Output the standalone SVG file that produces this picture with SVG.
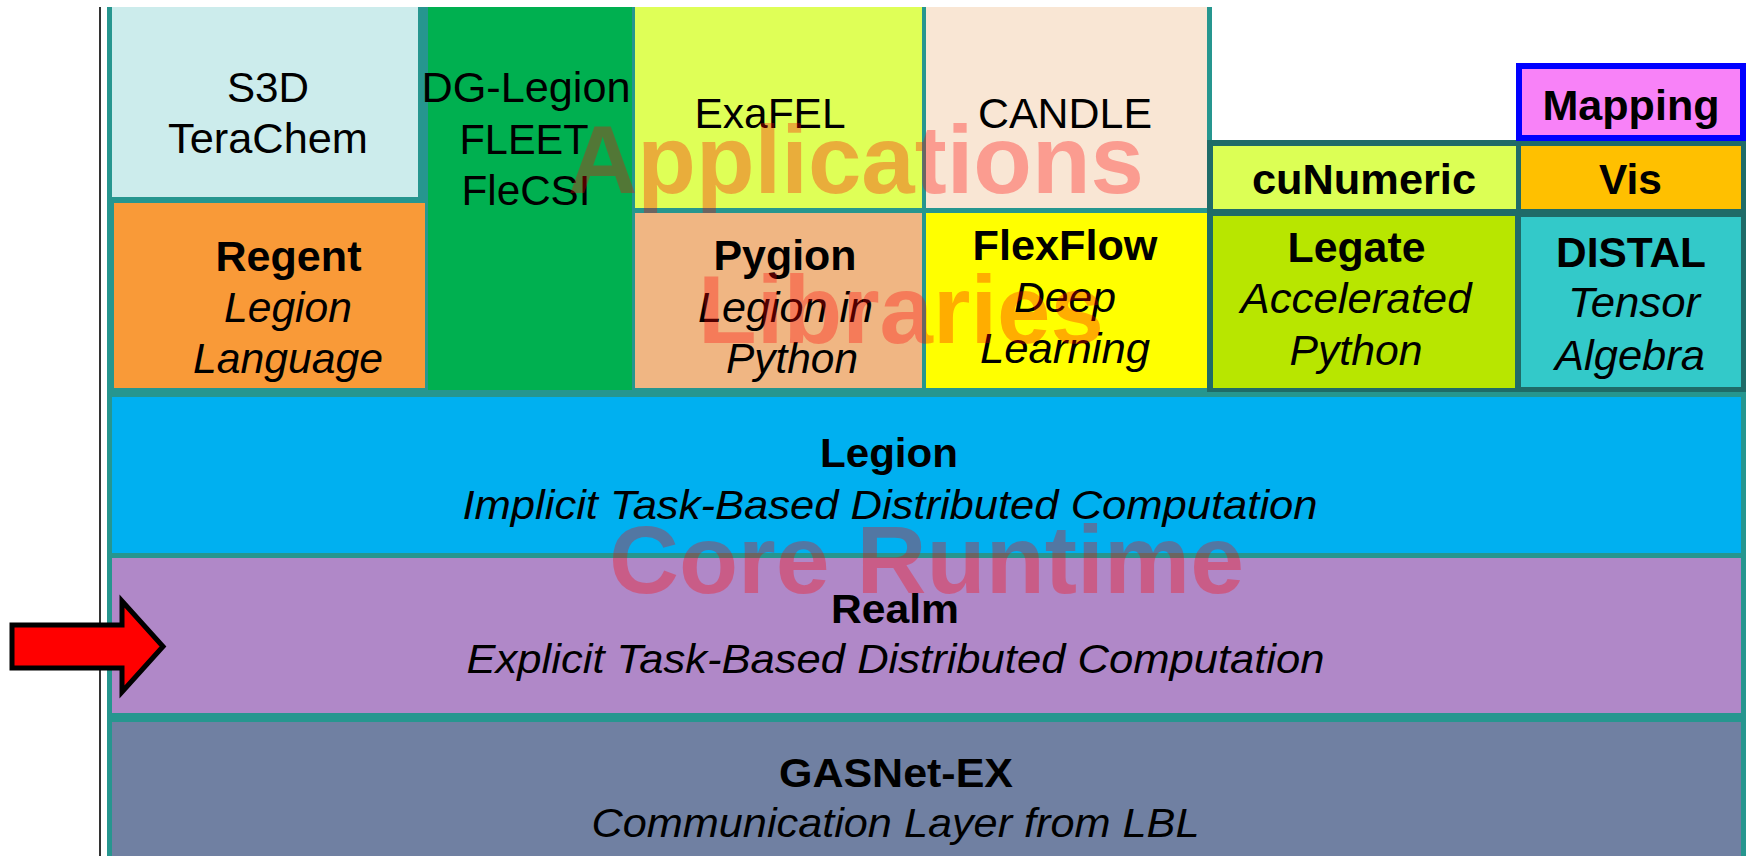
<svg xmlns="http://www.w3.org/2000/svg" width="1746" height="856" viewBox="0 0 1746 856">
<style>
text{font-family:"Liberation Sans",Arial,sans-serif;fill:#000;text-anchor:middle}
.r{font-size:42px}
.b{font-size:42px;font-weight:bold}
.i{font-size:43px;font-style:italic}
.cb{font-size:40px;font-weight:bold}
.ci{font-size:40px;font-style:italic}
.wm{font-size:96px;font-weight:bold;fill:#ff0000;fill-opacity:0.32}
</style>
<rect x="0" y="0" width="1746" height="856" fill="#ffffff"/>
<line x1="100" y1="7" x2="100" y2="856" stroke="#333333" stroke-width="2"/>
<polygon points="107,7 1212,7 1212,140 1746,140 1746,856 107,856" fill="#26968f"/>
<rect x="1207" y="140" width="539" height="252" fill="#1f6b68"/>

<g id="s3d">
<rect x="112" y="7" width="306" height="190" fill="#ccecec"/>
<text class="r" x="268" y="102" textLength="82" lengthAdjust="spacingAndGlyphs">S3D</text>
<text class="r" x="268" y="153" textLength="200" lengthAdjust="spacingAndGlyphs">TeraChem</text>
</g>
<g id="dg-legion">
<rect x="428" y="7" width="204" height="383" fill="#00b050"/>
<text class="r" x="526" y="102" textLength="209" lengthAdjust="spacingAndGlyphs">DG-Legion</text>
<text class="r" x="524" y="154" textLength="129" lengthAdjust="spacingAndGlyphs">FLEET</text>
<text class="r" x="526" y="205" textLength="129" lengthAdjust="spacingAndGlyphs">FleCSI</text>
</g>
<g id="regent">
<rect x="114" y="203" width="311" height="185" fill="#f99a38"/>
<text class="b" x="288.5" y="271" textLength="146" lengthAdjust="spacingAndGlyphs">Regent</text>
<text class="i" x="288" y="322" textLength="128" lengthAdjust="spacingAndGlyphs">Legion</text>
<text class="i" x="288" y="373" textLength="190" lengthAdjust="spacingAndGlyphs">Language</text>
</g>
<g id="exafel">
<rect x="635" y="7" width="287" height="201" fill="#dfff57"/>
<text class="r" x="770" y="128" textLength="151" lengthAdjust="spacingAndGlyphs">ExaFEL</text>
</g>
<g id="candle">
<rect x="926" y="7" width="281" height="201" fill="#f9e6d4"/>
<text class="r" x="1065" y="128" textLength="174" lengthAdjust="spacingAndGlyphs">CANDLE</text>
</g>
<g id="pygion">
<rect x="635" y="213" width="287" height="175" fill="#f0b683"/>
<text class="b" x="785" y="270" textLength="143" lengthAdjust="spacingAndGlyphs">Pygion</text>
<text class="i" x="785.5" y="322" textLength="175" lengthAdjust="spacingAndGlyphs">Legion in</text>
<text class="i" x="792" y="373" textLength="132" lengthAdjust="spacingAndGlyphs">Python</text>
</g>
<g id="flexflow">
<rect x="926" y="213" width="281" height="175" fill="#ffff00"/>
<text class="b" x="1065" y="260" textLength="185" lengthAdjust="spacingAndGlyphs">FlexFlow</text>
<text class="i" x="1065" y="312" textLength="102" lengthAdjust="spacingAndGlyphs">Deep</text>
<text class="i" x="1065" y="363" textLength="170" lengthAdjust="spacingAndGlyphs">Learning</text>
</g>
<g id="mapping">
<rect x="1519" y="66" width="224" height="72" fill="#f882f8" stroke="#0000ff" stroke-width="6"/>
<text class="b" x="1631" y="120" textLength="177" lengthAdjust="spacingAndGlyphs">Mapping</text>
</g>
<g id="cunumeric">
<rect x="1213" y="146" width="303" height="63" fill="#dcff55"/>
<text class="b" x="1364" y="194" textLength="224" lengthAdjust="spacingAndGlyphs">cuNumeric</text>
</g>
<g id="vis">
<rect x="1521" y="146" width="220" height="63" fill="#ffc000"/>
<text class="b" x="1630.5" y="194" textLength="63" lengthAdjust="spacingAndGlyphs">Vis</text>
</g>
<g id="legate">
<rect x="1213" y="216" width="302" height="172" fill="#b8e600"/>
<text class="b" x="1356.5" y="262" textLength="138" lengthAdjust="spacingAndGlyphs">Legate</text>
<text class="i" x="1356" y="313" textLength="231" lengthAdjust="spacingAndGlyphs">Accelerated</text>
<text class="i" x="1356" y="365" textLength="133" lengthAdjust="spacingAndGlyphs">Python</text>
</g>
<g id="distal">
<rect x="1521" y="217" width="220" height="170" fill="#33c9c9"/>
<text class="b" x="1631" y="267" textLength="150" lengthAdjust="spacingAndGlyphs">DISTAL</text>
<text class="i" x="1634" y="317" textLength="132" lengthAdjust="spacingAndGlyphs">Tensor</text>
<text class="i" x="1630" y="370" textLength="150" lengthAdjust="spacingAndGlyphs">Algebra</text>
</g>
<g id="legion">
<rect x="112" y="397" width="1629" height="156" fill="#00b0f0"/>
<text class="cb" x="889" y="467" textLength="138" lengthAdjust="spacingAndGlyphs">Legion</text>
<text class="ci" x="890" y="519" textLength="855" lengthAdjust="spacingAndGlyphs">Implicit Task-Based Distributed Computation</text>
</g>
<g id="realm">
<rect x="112" y="558" width="1629" height="155" fill="#b088c8"/>
<text class="cb" x="895" y="623" textLength="128" lengthAdjust="spacingAndGlyphs">Realm</text>
<text class="ci" x="895.5" y="673" textLength="858" lengthAdjust="spacingAndGlyphs">Explicit Task-Based Distributed Computation</text>
</g>
<g id="gasnet">
<rect x="112" y="722" width="1629" height="134" fill="#7080a2"/>
<text class="cb" x="896" y="787" textLength="234" lengthAdjust="spacingAndGlyphs">GASNet-EX</text>
<text class="ci" x="895.5" y="837" textLength="608" lengthAdjust="spacingAndGlyphs">Communication Layer from LBL</text>
</g>
<g id="watermarks">
<text class="wm" x="856" y="193" textLength="576" lengthAdjust="spacingAndGlyphs">Applications</text>
<text class="wm" x="901" y="343" textLength="406" lengthAdjust="spacingAndGlyphs">Libraries</text>
<text class="wm" x="926.5" y="593" textLength="635" lengthAdjust="spacingAndGlyphs">Core Runtime</text>
</g>
<g id="connectors">
<path d="M12,625 L122,625 L122,601 L163,646.5 L122,692 L122,668 L12,668 Z" fill="#ff0000" stroke="#000000" stroke-width="5" stroke-linejoin="miter"/>
</g>
</svg>
